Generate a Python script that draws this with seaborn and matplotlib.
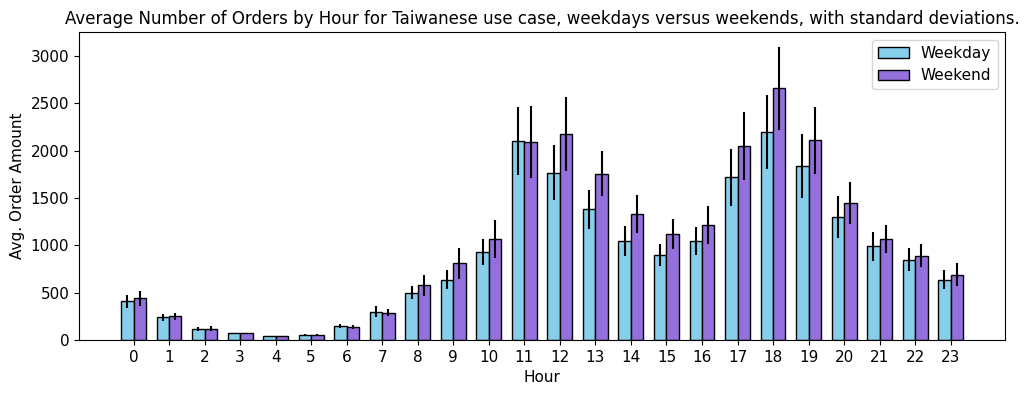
import numpy as np
import pandas as pd
import seaborn as sns
import matplotlib.pyplot as plt

hours = list(range(24))
weekday_mean = [410, 240, 120, 70, 40, 55, 150, 300, 500, 640, 930, 2100,
                1770, 1380, 1050, 900, 1050, 1720, 2200, 1840, 1300, 990, 850, 640]
weekday_std = [70, 40, 20, 10, 5, 8, 25, 60, 70, 100, 140, 360,
               290, 210, 160, 120, 150, 300, 390, 340, 220, 150, 120, 100]
weekend_mean = [440, 250, 120, 70, 40, 55, 140, 290, 580, 810, 1070, 2090,
                2180, 1760, 1330, 1120, 1220, 2050, 2660, 2110, 1450, 1070, 890, 690]
weekend_std = [80, 35, 25, 8, 5, 8, 20, 40, 110, 160, 200, 380,
               390, 240, 200, 160, 200, 360, 440, 350, 220, 150, 120, 120]

df = pd.DataFrame({
    'Hour': hours * 2,
    'Orders': weekday_mean + weekend_mean,
    'Day': ['Weekday'] * 24 + ['Weekend'] * 24,
})

plt.rcParams['font.size'] = 11
fig, ax = plt.subplots(figsize=(10.31, 3.95), dpi=100)
fig.subplots_adjust(left=0.0766, right=0.975, top=0.919, bottom=0.139)

sns.barplot(data=df, x='Hour', y='Orders', hue='Day', palette=['skyblue', 'mediumpurple'],
            edgecolor='black', linewidth=1, width=0.7, saturation=1, errorbar=None, ax=ax)

# standard deviation bars
x = np.arange(len(hours))
ax.errorbar(x - 0.175, weekday_mean, yerr=weekday_std, fmt='none', ecolor='black', elinewidth=1.5)
ax.errorbar(x + 0.175, weekend_mean, yerr=weekend_std, fmt='none', ecolor='black', elinewidth=1.5)

ax.set_xlim(-1.535, 24.535)
ax.set_ylim(0, 3255)
ax.set_title('Average Number of Orders by Hour for Taiwanese use case, weekdays versus weekends, with standard deviations.', fontsize=12)
ax.set_xlabel('Hour')
ax.set_ylabel('Avg. Order Amount')
handles, labels = ax.get_legend_handles_labels()
ax.legend(handles, labels, loc='upper right')

fig.savefig('out.png', dpi=100)
